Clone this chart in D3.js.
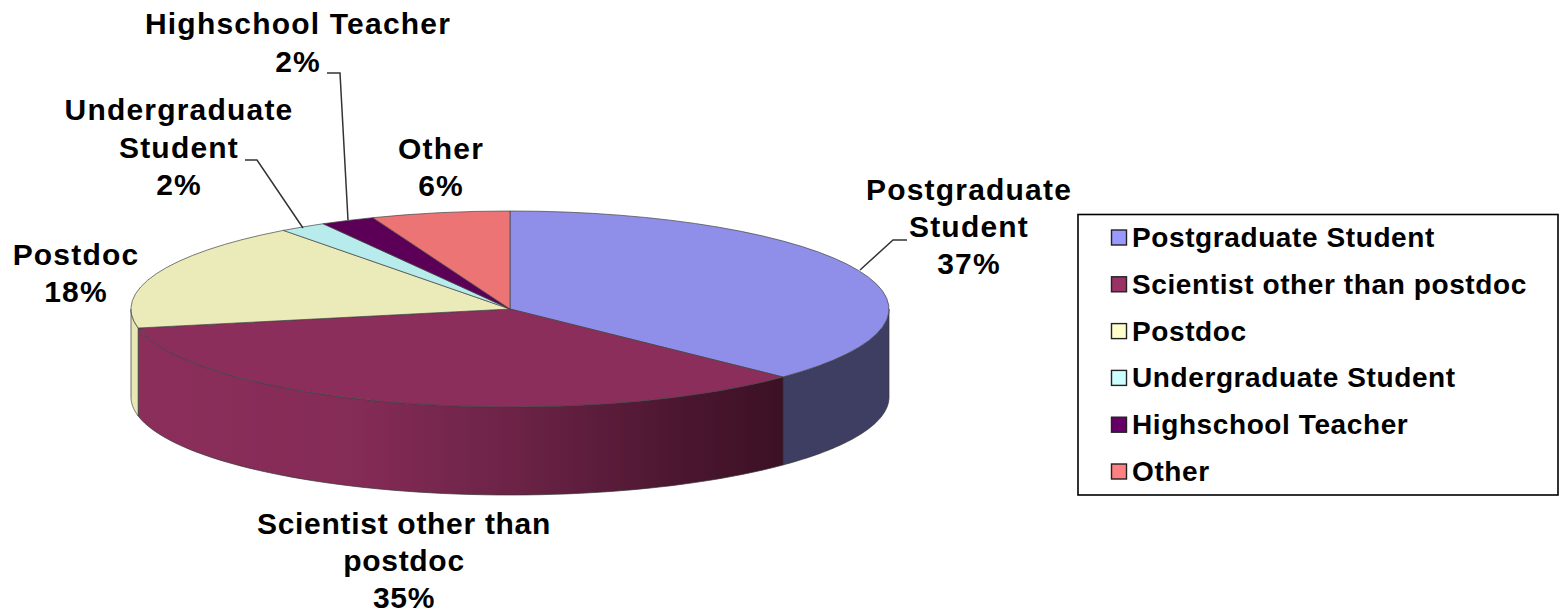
<!DOCTYPE html>
<html><head><meta charset="utf-8">
<script src="https://cdn.jsdelivr.net/npm/d3@7"></script>
<style>html,body{margin:0;padding:0;background:#fff}svg{display:block}
text{font-family:"Liberation Sans",Arial,sans-serif;font-weight:bold;fill:#000}</style>
</head><body><svg id="c" width="1560" height="614"></svg>
<script>
const categories=["Postgraduate Student","Scientist other than postdoc","Postdoc","Undergraduate Student","Highschool Teacher","Other"];
const values=[37.2,34.7,17.9,2.0,2.3,5.9];
const percentLabels=["37%","35%","18%","2%","2%","6%"];
const labelLines=[["Postgraduate","Student"],["Scientist other than","postdoc"],["Postdoc"],["Undergraduate","Student"],["Highschool Teacher"],["Other"]];
const topColors=["#8f8fe9","#8c2e5b","#ebebb9","#b8ebeb","#5c0057","#ed7474"];
const legendColors=["#9999ff","#993366","#ffffcc","#ccffff","#660066","#ff8080"];
const sideColors=["#3e3e63","url(#sci)","#e8e8b6","#8aa","#404","#a55"];

const W=1560,H=614,cx=510,cy=309,rx=379,ry=98,depth=88;
const labelPos=[[969,200],[404,533.5],[76,264.5],[179,120],[298,34],[441,158.5]];
const lineHeights=[37,37,37,37.5,37.5,37];
const labelSpacing=[1.2,0.7,1.2,1.2,1.2,1.2];
const leaders=[[[907,240],[893,240],[860,270]],null,null,[[245,160],[257,160],[303,228]],[[327,73],[340,73],[348,220]],null];
const fs=30;

const svg=d3.select("#c");
const x=d3.scaleLinear().domain([-1,1]).range([cx-rx,cx+rx]);
const y=d3.scaleLinear().domain([-1,1]).range([cy-ry,cy+ry]);
const pie=d3.pie().sort(null).value(d=>d);
const arcs=pie(values);

const grad=svg.append("defs").append("linearGradient").attr("id","sci")
  .attr("gradientUnits","userSpaceOnUse").attr("x1",x(-1)).attr("x2",785).attr("y1",0).attr("y2",0);
[[0,"#8c2e5b"],[0.35,"#842b56"],[0.6,"#6a2245"],[0.85,"#4a162f"],[1,"#3b1024"]]
  .forEach(s=>grad.append("stop").attr("offset",s[0]).attr("stop-color",s[1]));

// side walls: only the front half of the ellipse (90deg..270deg) is visible
const wall=d3.area().x(a=>x(Math.sin(a))).y0(a=>y(-Math.cos(a))).y1(a=>y(-Math.cos(a))+depth);
svg.append("g").selectAll("path").data(arcs).join("path")
  .attr("d",d=>{
    const a0=Math.max(d.startAngle,Math.PI/2),a1=Math.min(d.endAngle,3*Math.PI/2);
    if(a1<=a0) return null;
    return wall(d3.range(0,61).map(i=>a0+(a1-a0)*i/60));
  })
  .attr("fill",(d,i)=>sideColors[i]).attr("stroke","#333").attr("stroke-width",0.7);

// top face
const arc=d3.arc().innerRadius(0).outerRadius(1);
svg.append("g").attr("transform",`translate(${cx},${cy}) scale(${rx},${ry})`)
  .selectAll("path").data(arcs).join("path")
  .attr("d",arc).attr("fill",(d,i)=>topColors[i])
  .attr("stroke","#444").attr("stroke-width",0.7).attr("vector-effect","non-scaling-stroke");

// leaders
svg.append("g").selectAll("path").data(leaders.filter(Boolean)).join("path")
  .attr("d",d3.line()).attr("fill","none").attr("stroke","#333").attr("stroke-width",1.5);

// data labels
const lab=svg.append("g").selectAll("text").data(categories).join("text")
  .attr("text-anchor","middle").attr("font-size",fs).attr("letter-spacing",(d,i)=>labelSpacing[i])
  .attr("transform",(d,i)=>`translate(${labelPos[i][0]},${labelPos[i][1]})`);
lab.each(function(d,i){
  const t=d3.select(this);
  labelLines[i].concat(percentLabels[i]).forEach((s,j)=>t.append("tspan").attr("x",0).attr("y",j*lineHeights[i]).text(s));
});

// legend
svg.append("rect").attr("x",1078).attr("y",214.5).attr("width",480).attr("height",280.5)
  .attr("fill","#fff").attr("stroke","#000").attr("stroke-width",1.6);
const ly=d3.scalePoint().domain(categories).range([237.5,471.5]);
const lg=svg.append("g").selectAll("g").data(categories).join("g")
  .attr("transform",d=>`translate(1112,${ly(d)})`);
lg.append("rect").attr("x",-0.5).attr("y",-7.5).attr("width",15).attr("height",15)
  .attr("fill",(d,i)=>legendColors[i]).attr("stroke","#222").attr("stroke-width",1.4);
lg.append("text").attr("x",20).attr("y",9.5).attr("font-size",28).attr("letter-spacing",0.6).text(d=>d);
</script></body></html>
